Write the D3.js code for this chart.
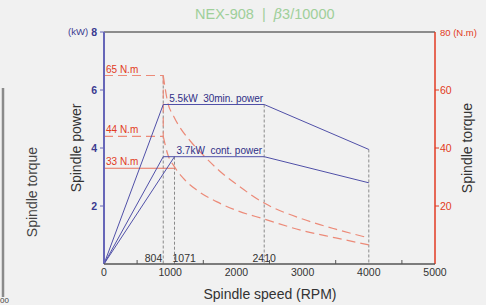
<!DOCTYPE html>
<html><head><meta charset="utf-8">
<script src="https://cdn.jsdelivr.net/npm/d3@7"></script>
<style>body{margin:0;background:#f1f1f1;}svg{display:block;font-family:"Liberation Sans",Arial,sans-serif;}</style>
</head><body>
<svg id="c" width="486" height="305"></svg>
<script>
// ---- data ----
const title = "NEX-908  |  ";
const titleModel = "3/10000";
const xTicks = [0, 1000, 2000, 3000, 4000, 5000];
const xMinorTicks = [500, 1500, 2500, 3500, 4500];
const powerTicks = [2, 4, 6, 8];
const torqueTicks = [20, 40, 60];
// speed break points (position on chart) and their printed labels
const breakSpeeds = [895, 1065, 2420, 4000];
const breakLabels = ["804", "1071", "2410", ""];
const breakTops = [65, 3.7, 5.5, 3.95]; // top of each guide (torque for first, power for others)
const power30 = [[0, 0], [895, 5.5], [2420, 5.5], [4000, 3.95]];
const powerCont = [[0, 0], [895, 3.7], [2420, 3.7], [4000, 2.8]];
const powerCont2 = [[0, 0], [1065, 3.7]];
const torqueLevels = [65, 44, 33];
const torqueLevelEnds = [895, 895, 1065];
const torqueLabels = ["65 N.m", "44 N.m", "33 N.m"];
const torqueA = [[895, 65], [960, 56], [1050, 51], [1150, 47], [1300, 42.5], [1500, 37.5], [1750, 32], [2000, 27.5], [2420, 21], [3000, 15.5], [3500, 12], [4000, 9]];
const torqueB = [[895, 44], [960, 38], [1065, 33.5], [1200, 29.5], [1400, 25.5], [1700, 21.5], [2000, 18.5], [2420, 15.5], [3000, 11.5], [3500, 9], [4000, 6.6]];
const powerLabels = ["5.5kW  30min. power", "3.7kW  cont. power"];

// ---- layout ----
const svg = d3.select("#c");
const X0 = 104, X1 = 435, Y0 = 264, Y1 = 32;
const x = d3.scaleLinear().domain([0, 5000]).range([X0, X1]);
const yP = d3.scaleLinear().domain([0, 8]).range([Y0, Y1]);
const yT = d3.scaleLinear().domain([0, 80]).range([Y0, Y1]);
const blue = "#5050a8", blueText = "#2f2f86", red = "#e23a22", redLight = "#ec8a78";

svg.append("rect").attr("width", 486).attr("height", 305).attr("fill", "#f1f1f1");

// side remnant
svg.append("line").attr("x1", 3).attr("x2", 3).attr("y1", 88).attr("y2", 297).attr("stroke", "#8a8a8a").attr("stroke-width", 2.5);
svg.append("text").attr("transform", "translate(37,192) rotate(-90)").attr("text-anchor", "middle")
  .attr("font-size", 14).attr("fill", "#444").text("Spindle torque");
svg.append("text").attr("x", 0).attr("y", 303).attr("font-size", 8).attr("fill", "#444").text("00");

// title
const tt = svg.append("text").attr("x", 195).attr("y", 19).attr("font-size", 14.5).attr("fill", "#9fcf9a").attr("xml:space", "preserve");
tt.append("tspan").text(title);
tt.append("tspan").attr("font-style", "italic").attr("font-family", "DejaVu Serif").text("β");
tt.append("tspan").text(titleModel);

// top border
svg.append("line").attr("x1", X0).attr("x2", X1).attr("y1", Y1).attr("y2", Y1).attr("stroke", "#8c8c8c").attr("stroke-width", 2);

// guide lines
breakSpeeds.forEach((s, i) => {
  const top = i === 0 ? yT(breakTops[i]) : yP(breakTops[i]);
  svg.append("line").attr("x1", x(s)).attr("x2", x(s)).attr("y1", top).attr("y2", Y0)
    .attr("stroke", "#8a8a8a").attr("stroke-width", 1).attr("stroke-dasharray", "3,2");
});
breakLabels.forEach((l, i) => {
  if (!l) return;
  const anchor = i === 0 ? "end" : (i === 1 ? "start" : "middle");
  const dx = i === 0 ? -1 : (i === 1 ? -2 : 0);
  svg.append("text").attr("x", x(breakSpeeds[i]) + dx).attr("y", 262).attr("text-anchor", anchor)
    .attr("font-size", 10.5).attr("fill", "#333").text(l);
});

// torque level lines
torqueLevels.forEach((t, i) => {
  svg.append("line").attr("x1", X0).attr("x2", x(torqueLevelEnds[i])).attr("y1", yT(t)).attr("y2", yT(t))
    .attr("stroke", i === 2 ? "#e8705c" : redLight).attr("stroke-width", 1.1)
    .attr("stroke-dasharray", i === 2 ? null : "9,5");
  svg.append("text").attr("x", 106).attr("y", yT(t) - 3).attr("font-size", 10).attr("fill", red).text(torqueLabels[i]);
});
svg.append("line").attr("x1", x(895)).attr("x2", x(895)).attr("y1", yT(65)).attr("y2", yT(44))
  .attr("stroke", redLight).attr("stroke-width", 1.1).attr("stroke-dasharray", "9,5");

// torque curves
const tl = d3.line().x(d => x(d[0])).y(d => yT(d[1])).curve(d3.curveMonotoneX);
[torqueA, torqueB].forEach(d => {
  svg.append("path").attr("d", tl(d)).attr("fill", "none").attr("stroke", redLight)
    .attr("stroke-width", 1.2).attr("stroke-dasharray", "9,5");
});

// power lines
const pl = d3.line().x(d => x(d[0])).y(d => yP(d[1]));
[power30, powerCont, powerCont2].forEach(d => {
  svg.append("path").attr("d", pl(d)).attr("fill", "none").attr("stroke", blue).attr("stroke-width", 1);
});
svg.append("text").attr("x", x(895) + 6).attr("y", yP(5.5) - 3).attr("font-size", 10).attr("fill", blueText).attr("xml:space", "preserve").text(powerLabels[0]);
svg.append("text").attr("x", x(1065) + 2).attr("y", yP(3.7) - 3).attr("font-size", 10).attr("fill", blueText).attr("xml:space", "preserve").text(powerLabels[1]);

// left axis
svg.append("line").attr("x1", X0).attr("x2", X0).attr("y1", Y1).attr("y2", Y0).attr("stroke", "#6666b8").attr("stroke-width", 2);
powerTicks.forEach(t => {
  svg.append("line").attr("x1", X0 - 4).attr("x2", X0).attr("y1", yP(t)).attr("y2", yP(t)).attr("stroke", "#6666b8");
  svg.append("text").attr("x", X0 - 7).attr("y", yP(t) + 4).attr("text-anchor", "end").attr("font-size", 10.5)
    .attr("font-weight", "bold").attr("fill", "#3a3a90").text(t);
});
svg.append("text").attr("x", 68).attr("y", Y1 + 3).attr("font-size", 9.5).attr("fill", "#3a3a90").text("(kW)");
svg.append("text").attr("transform", `translate(81,${(Y0 + Y1) / 2}) rotate(-90)`).attr("text-anchor", "middle")
  .attr("font-size", 14).attr("fill", "#333").text("Spindle power");

// right axis
svg.append("line").attr("x1", X1).attr("x2", X1).attr("y1", Y1).attr("y2", Y0).attr("stroke", red).attr("stroke-width", 1.5);
torqueTicks.forEach(t => {
  svg.append("line").attr("x1", X1).attr("x2", X1 + 4).attr("y1", yT(t)).attr("y2", yT(t)).attr("stroke", red);
  svg.append("text").attr("x", X1 + 5).attr("y", yT(t) + 4).attr("font-size", 10.5).attr("fill", red).text(t);
});
svg.append("text").attr("x", X1 + 5).attr("y", Y1 + 3.5).attr("font-size", 9.5).attr("fill", red).text("80 (N.m)");
svg.append("text").attr("transform", `translate(472,${(Y0 + Y1) / 2}) rotate(-90)`).attr("text-anchor", "middle")
  .attr("font-size", 14).attr("fill", "#333").text("Spindle torque");

// bottom axis
svg.append("line").attr("x1", X0).attr("x2", X1).attr("y1", Y0).attr("y2", Y0).attr("stroke", "#555").attr("stroke-width", 1.5);
xMinorTicks.forEach(t => {
  svg.append("line").attr("x1", x(t)).attr("x2", x(t)).attr("y1", Y0).attr("y2", Y0 - 4).attr("stroke", "#555");
});
xTicks.forEach(t => {
  svg.append("text").attr("x", x(t)).attr("y", 276).attr("text-anchor", "middle").attr("font-size", 10.5).attr("fill", "#333").text(t);
});
svg.append("text").attr("x", 270).attr("y", 299).attr("text-anchor", "middle").attr("font-size", 14).attr("fill", "#333").text("Spindle speed (RPM)");
</script>
</body></html>
